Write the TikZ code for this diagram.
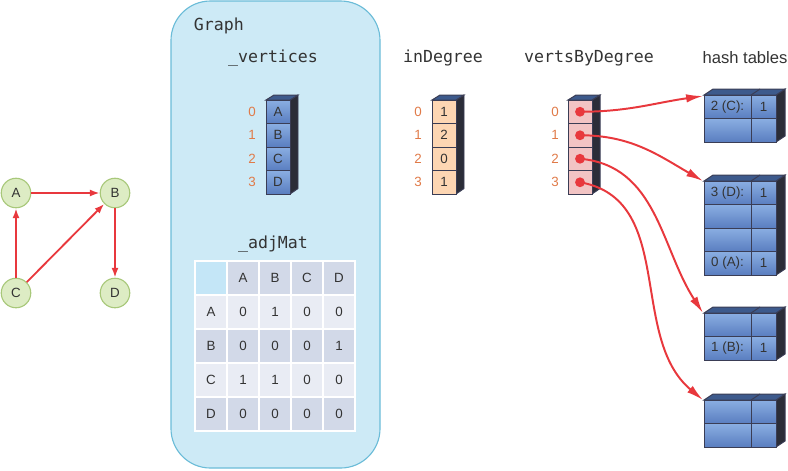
\documentclass[tikz,border=0pt]{standalone}
\usepackage{fontspec}
\setmainfont{Liberation Sans}
\newfontfamily\codefont{DejaVu Sans Mono}
\usetikzlibrary{arrows.meta}

\definecolor{graphbg}{HTML}{CDEAF6}
\definecolor{graphline}{HTML}{6BBCD8}
\definecolor{cellline}{HTML}{3A3D55}
\definecolor{blueA}{HTML}{8AAEE2}
\definecolor{blueB}{HTML}{5A7EC0}
\definecolor{topface}{HTML}{3D5A8C}
\definecolor{sideface}{HTML}{2B2D38}
\definecolor{peach}{HTML}{FDD6B3}
\definecolor{pinkcell}{HTML}{F2C4C4}
\definecolor{idxcol}{HTML}{E07A48}
\definecolor{edgered}{HTML}{E8383D}
\definecolor{nodegreen}{HTML}{DDECC4}
\definecolor{nodeline}{HTML}{A8C87A}
\definecolor{matdark}{HTML}{D2D9E8}
\definecolor{matlight}{HTML}{E9ECF4}
\definecolor{matcorner}{HTML}{C4E6F7}
\definecolor{txt}{HTML}{333333}

\begin{document}
\begin{tikzpicture}
[
  x=0.025cm, y=-0.025cm,
	vert/.style={circle,draw=nodeline,fill=nodegreen,line width=0.8pt,minimum size=21pt,inner sep=0pt},
	edge/.style={draw=edgered,line width=1.3pt,-{Latex[length=7pt,width=5pt]}},
	blu/.style={draw=cellline,line width=0.7pt,top color=blueA,bottom color=blueB},
	pch/.style={draw=cellline,line width=0.7pt,fill=peach},
	pnk/.style={draw=cellline,line width=0.7pt,fill=pinkcell},
	side/.style={draw=cellline,line width=0.7pt,fill=sideface},
	topf/.style={draw=cellline,line width=0.7pt,fill=topface},
	idx/.style={text=idxcol},
	code/.style={font=\codefont\fontsize{11.8}{14}\selectfont},
	mat/.style={draw=white,line width=1.4pt},
	ptr/.style={draw=edgered,line width=1.4pt,-{Latex[length=12pt,width=6pt]}},
	dot/.style={circle,fill=edgered,inner sep=0pt,minimum size=7pt}
]
\tikzstyle{every node}=[font=\fontsize{9.5}{11}\selectfont,text=txt]

\useasboundingbox (0,0) rectangle (788,470);

% example graph
\node[vert] (A) at (16,193) {A};
\node[vert] (B) at (115,193) {B};
\node[vert] (C) at (16,293) {C};
\node[vert] (D) at (115,293) {D};

\draw[edge] (A) -- (B);
\draw[edge] (C) -- (A);
\draw[edge] (C) -- (B);
\draw[edge] (B) -- (D);


% graph object
\draw[rounded corners=28pt,fill=graphbg,draw=graphline,line width=0.8pt] (171,1) rectangle (380,468);

\node[code,anchor=west] (graphlbl) at (189,26) {Graph};
\node[code] (vertlbl) at (273,58) {\_vertices};
\node[code] (adjlbl) at (273,244) {\_adjMat};

% _vertices
\draw[side] (290,100) -- (298,95) -- (298,188.5) -- (290,194) -- cycle;
\draw[topf] (266,100) -- (274,95) -- (298,95) -- (290,100) -- cycle;
\draw (266,100) rectangle +(24,23.5) [blu] node[midway] (vA) {A};
\draw (266,123.5) rectangle +(24,23.5) [blu] node[midway] (vB) {B};
\draw (266,147) rectangle +(24,23.5) [blu] node[midway] (vC) {C};
\draw (266,170.5) rectangle +(24,23.5) [blu] node[midway] (vD) {D};
\node[idx] (vi0) at (252,111.75) {0};
\node[idx] (vi1) at (252,135.25) {1};
\node[idx] (vi2) at (252,158.75) {2};
\node[idx] (vi3) at (252,182.25) {3};

% _adjMat
\draw (195,261) rectangle +(32,34) [mat,fill=matcorner];
\draw (227,261) rectangle +(32,34) [mat,fill=matdark] node[midway] (hA) {A};
\draw (259,261) rectangle +(32,34) [mat,fill=matdark] node[midway] (hB) {B};
\draw (291,261) rectangle +(32,34) [mat,fill=matdark] node[midway] (hC) {C};
\draw (323,261) rectangle +(32,34) [mat,fill=matdark] node[midway] (hD) {D};

\draw (195,295) rectangle +(32,34) [mat,fill=matlight] node[midway] (rA) {A};
\draw (227,295) rectangle +(32,34) [mat,fill=matlight] node[midway] (mAA) {0};
\draw (259,295) rectangle +(32,34) [mat,fill=matlight] node[midway] (mAB) {1};
\draw (291,295) rectangle +(32,34) [mat,fill=matlight] node[midway] (mAC) {0};
\draw (323,295) rectangle +(32,34) [mat,fill=matlight] node[midway] (mAD) {0};

\draw (195,329) rectangle +(32,34) [mat,fill=matdark] node[midway] (rB) {B};
\draw (227,329) rectangle +(32,34) [mat,fill=matdark] node[midway] (mBA) {0};
\draw (259,329) rectangle +(32,34) [mat,fill=matdark] node[midway] (mBB) {0};
\draw (291,329) rectangle +(32,34) [mat,fill=matdark] node[midway] (mBC) {0};
\draw (323,329) rectangle +(32,34) [mat,fill=matdark] node[midway] (mBD) {1};

\draw (195,363) rectangle +(32,34) [mat,fill=matlight] node[midway] (rC) {C};
\draw (227,363) rectangle +(32,34) [mat,fill=matlight] node[midway] (mCA) {1};
\draw (259,363) rectangle +(32,34) [mat,fill=matlight] node[midway] (mCB) {1};
\draw (291,363) rectangle +(32,34) [mat,fill=matlight] node[midway] (mCC) {0};
\draw (323,363) rectangle +(32,34) [mat,fill=matlight] node[midway] (mCD) {0};

\draw (195,397) rectangle +(32,34) [mat,fill=matdark] node[midway] (rD) {D};
\draw (227,397) rectangle +(32,34) [mat,fill=matdark] node[midway] (mDA) {0};
\draw (259,397) rectangle +(32,34) [mat,fill=matdark] node[midway] (mDB) {0};
\draw (291,397) rectangle +(32,34) [mat,fill=matdark] node[midway] (mDC) {0};
\draw (323,397) rectangle +(32,34) [mat,fill=matdark] node[midway] (mDD) {0};


% inDegree
\node[code] (inlbl) at (443,58) {inDegree};
\draw[side] (456,100) -- (464,95) -- (464,188.5) -- (456,194) -- cycle;
\draw[topf] (432,100) -- (440,95) -- (464,95) -- (456,100) -- cycle;
\draw (432,100) rectangle +(24,23.5) [pch] node[midway] (d0) {1};
\draw (432,123.5) rectangle +(24,23.5) [pch] node[midway] (d1) {2};
\draw (432,147) rectangle +(24,23.5) [pch] node[midway] (d2) {0};
\draw (432,170.5) rectangle +(24,23.5) [pch] node[midway] (d3) {1};
\node[idx] (di0) at (418,111.75) {0};
\node[idx] (di1) at (418,135.25) {1};
\node[idx] (di2) at (418,158.75) {2};
\node[idx] (di3) at (418,182.25) {3};

% vertsByDegree
\node[code] (bylbl) at (589,58) {vertsByDegree};
\draw[side] (592,100) -- (600,95) -- (600,188.5) -- (592,194) -- cycle;
\draw[topf] (568,100) -- (576,95) -- (600,95) -- (592,100) -- cycle;
\draw (568,100) rectangle +(24,23.5) [pnk];
\draw (568,123.5) rectangle +(24,23.5) [pnk];
\draw (568,147) rectangle +(24,23.5) [pnk];
\draw (568,170.5) rectangle +(24,23.5) [pnk];
\node[idx] (bi0) at (555,111.75) {0};
\node[idx] (bi1) at (555,135.25) {1};
\node[idx] (bi2) at (555,158.75) {2};
\node[idx] (bi3) at (555,182.25) {3};

% hash tables
\node[font=\fontsize{11.8}{14}\selectfont] (hashlbl) at (745,58) {hash tables};

\draw[side] (776,95) -- (785,89) -- (785,136) -- (776,142) -- cycle;
\draw[topf] (704,95) -- (713,89) -- (785,89) -- (776,95) -- cycle;
\draw[topf] (751,95) -- (760,89);
\draw (704,95) rectangle +(47,23.5) [blu] node[midway] (k00) {2 (C):};
\draw (751,95) rectangle +(25,23.5) [blu] node[midway] (v00) {1};
\draw (704,118.5) rectangle +(47,23.5) [blu];
\draw (751,118.5) rectangle +(25,23.5) [blu];

\draw[side] (776,181) -- (785,175) -- (785,269) -- (776,275) -- cycle;
\draw[topf] (704,181) -- (713,175) -- (785,175) -- (776,181) -- cycle;
\draw[topf] (751,181) -- (760,175);
\draw (704,181) rectangle +(47,23.5) [blu] node[midway] (k10) {3 (D):};
\draw (751,181) rectangle +(25,23.5) [blu] node[midway] (v10) {1};
\draw (704,204.5) rectangle +(47,23.5) [blu];
\draw (751,204.5) rectangle +(25,23.5) [blu];
\draw (704,228) rectangle +(47,23.5) [blu];
\draw (751,228) rectangle +(25,23.5) [blu];
\draw (704,251.5) rectangle +(47,23.5) [blu] node[midway] (k13) {0 (A):};
\draw (751,251.5) rectangle +(25,23.5) [blu] node[midway] (v13) {1};

\draw[side] (776,313) -- (785,307) -- (785,354) -- (776,360) -- cycle;
\draw[topf] (704,313) -- (713,307) -- (785,307) -- (776,313) -- cycle;
\draw[topf] (751,313) -- (760,307);
\draw (704,313) rectangle +(47,23.5) [blu];
\draw (751,313) rectangle +(25,23.5) [blu];
\draw (704,336.5) rectangle +(47,23.5) [blu] node[midway] (k21) {1 (B):};
\draw (751,336.5) rectangle +(25,23.5) [blu] node[midway] (v21) {1};

\draw[side] (776,400) -- (785,394) -- (785,441) -- (776,447) -- cycle;
\draw[topf] (704,400) -- (713,394) -- (785,394) -- (776,400) -- cycle;
\draw[topf] (751,400) -- (760,394);
\draw (704,400) rectangle +(47,23.5) [blu];
\draw (751,400) rectangle +(25,23.5) [blu];
\draw (704,423.5) rectangle +(47,23.5) [blu];
\draw (751,423.5) rectangle +(25,23.5) [blu];

% pointers
\coordinate (t0) at (703,96);
\coordinate (t1) at (703,181);
\coordinate (t2) at (703,313);
\coordinate (t3) at (703,400);

\node[dot] (p0) at (580,111.75) {};
\node[dot] (p1) at (580,135.25) {};
\node[dot] (p2) at (580,158.75) {};
\node[dot] (p3) at (580,182.25) {};

\draw[ptr] (p0.center) to[out=0,in=188] (t0);
\draw[ptr] (p1.center) to[out=0,in=150] (t1);
\draw[ptr] (p2.center) to[out=-5,in=123] (t2);
\draw[ptr] (p3.center) to[out=-10,in=140] (t3);

\end{tikzpicture}
\end{document}
